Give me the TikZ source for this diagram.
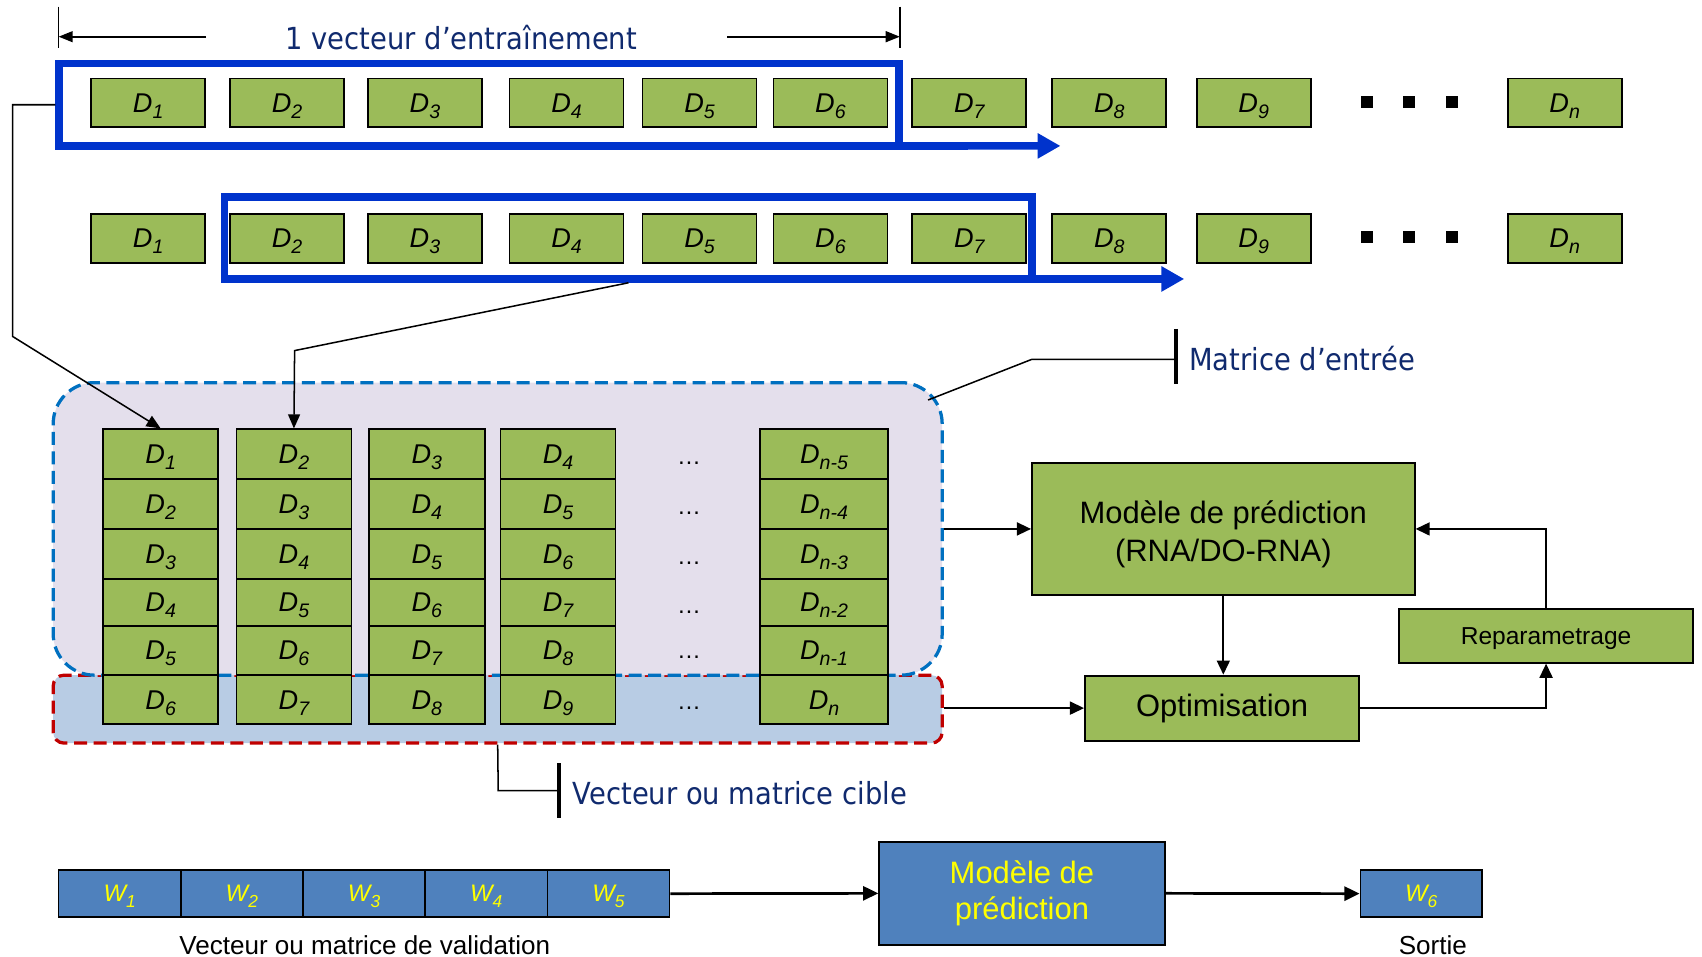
\documentclass[tikz,border=0pt]{standalone}
\usepackage{fontspec}
\usepackage{graphicx}
\setmainfont{Liberation Sans}
\newfontfamily\tah[FakeStretch=0.9]{DejaVu Sans}
\usetikzlibrary{arrows.meta,calc}
\definecolor{dgreen}{HTML}{9BBB59}
\definecolor{fblue}{HTML}{0033CC}
\definecolor{lav}{HTML}{E4DFEC}
\definecolor{dashblue}{HTML}{0070C0}
\definecolor{dred}{HTML}{C00000}
\definecolor{lblue}{HTML}{B8CCE4}
\definecolor{wblue}{HTML}{4F81BD}
\definecolor{navy}{HTML}{102A6E}
\definecolor{yel}{HTML}{FFFF00}
\newcommand\sub[1]{\raisebox{-0.22em}{\fontsize{18}{18}\selectfont #1}}
\newcommand\wsub[1]{\raisebox{-0.22em}{\fontsize{16}{16}\selectfont #1}}
\begin{document}
\begin{tikzpicture}[x=1pt,y=-1pt,
  dbox/.style={draw=black, line width=1.6pt, fill=dgreen, minimum width=105pt, minimum height=45pt, inner sep=0pt, text depth=0pt, font=\fontsize{25}{28}\selectfont\itshape},
  cell/.style={dbox},
  sq/.style={fill=black, minimum size=11pt, inner sep=0pt},
  frame/.style={draw=fblue, line width=7pt, inner sep=0pt},
  bluearr/.style={draw=fblue, line width=7pt, -{Triangle[length=21pt,width=22pt]}},
  conn/.style={draw=black, line width=1.4pt, -{Triangle[length=13pt,width=11pt]}},
  arr/.style={draw=black, line width=1.6pt, -{Triangle[length=13pt,width=12pt]}},
  barr/.style={draw=black, line width=2.5pt, -{Triangle[length=14pt,width=13pt]}},
  bigbox/.style={draw=black, line width=1.8pt, fill=dgreen, inner sep=0pt, align=center, font=\fontsize{28.5}{34.5}\selectfont},
  wbox/.style={draw=black, line width=1.6pt, fill=wblue, minimum width=112.6pt, minimum height=43pt, inner sep=0pt, text depth=0pt, text=yel, font=\fontsize{22}{24}\selectfont\itshape},
  lab/.style={text=navy, font=\tah\fontsize{28}{32}\selectfont, anchor=base west, inner sep=0pt},
  plain/.style={draw=black, line width=1.4pt},
  bar/.style={draw=black, line width=3.5pt}
]
\useasboundingbox (0,0) rectangle (1568,881);

% ---------- top dimension ----------
\coordinate (dl) at (54,33.8);
\coordinate (dr) at (829,33.8);
\coordinate (dla) at (190,33.8);
\coordinate (dra) at (670,33.8);
\draw[line width=1.2pt] (54,6) -- (54,44.5);
\draw[line width=1.2pt] (829,6) -- (829,44.5);
\draw[line width=1.6pt, -{Triangle[length=13pt,width=10pt]}] (dla) -- (dl);
\draw[line width=1.6pt, -{Triangle[length=13pt,width=10pt]}] (dra) -- (dr);
\node[lab] (tv) at (263,45.5) {1 vecteur d’entraînement};

% ---------- row 1 ----------
\foreach \i/\x in {1/136.5,2/264.5,3/391.5,4/522,5/644.5,6/765,7/893,8/1022,9/1155}
  \node[dbox] (a\i) at (\x,94.7) {D\sub{\i}};
\node[dbox] (an) at (1441.5,94.7) {D\sub{n}};
\foreach \k/\x in {1/1259,2/1298,3/1337.5} \node[sq] (pa\k) at (\x,93.7) {};

% ---------- row 2 ----------
\foreach \i/\x in {1/136.5,2/264.5,3/391.5,4/522,5/644.5,6/765,7/893,8/1022,9/1155}
  \node[dbox] (b\i) at (\x,219.5) {D\sub{\i}};
\node[dbox] (bn) at (1441.5,219.5) {D\sub{n}};
\foreach \k/\x in {1/1259,2/1298,3/1337.5} \node[sq] (pb\k) at (\x,218.5) {};

% ---------- frames ----------
\node[frame, minimum width=773.6pt, minimum height=76pt] (f1) at (441.2,96.5) {};
\coordinate (t1) at (977,134.4);
\draw[bluearr] ([shift={(-3.5pt,3.5pt)}]f1.south east) -- (t1);
\node[frame, minimum width=744pt, minimum height=75.5pt] (f2) at (579,219.25) {};
\coordinate (t2) at (1091,257);
\draw[bluearr] ([shift={(-3.5pt,3.5pt)}]f2.south east) -- (t2);

% ---------- input / target regions ----------
\node[draw=dred, fill=lblue, line width=3pt, dash pattern=on 12pt off 6pt, rounded corners=10pt,
      minimum width=819pt, minimum height=62.6pt, inner sep=0pt] (target) at (458.5,653.3) {};
\node[draw=dashblue, fill=lav, line width=3pt, dash pattern=on 12pt off 6pt, rounded corners=38pt,
      minimum width=819pt, minimum height=269.5pt, inner sep=0pt] (inmat) at (458.5,487.25) {};

% ---------- matrix ----------
\foreach \r/\y/\h in {1/418.4/45.8, 2/464.35/46.1, 3/510.4/46, 4/554.9/43, 5/599.2/45.6, 6/644.65/45.3} {
  \foreach \c/\x/\w in {1/148/106, 2/270.8/106, 3/393.15/107, 4/514.15/106} {
    \pgfmathtruncatemacro\k{\r+\c-1}
    \node[cell, minimum width=\w pt, minimum height=\h pt] (c\c\r) at (\x,\y) {D\sub{\k}};
  }
}
\foreach \r/\y/\h/\s in {1/418.4/45.8/n-5, 2/464.35/46.1/n-4, 3/510.4/46/n-3, 4/554.9/43/n-2, 5/599.2/45.6/n-1, 6/644.65/45.3/n}
  \node[cell, minimum width=118.3pt, minimum height=\h pt] (c5\r) at (759.15,\y) {D\sub{\s}};
\foreach \r/\y in {1/428.2, 2/474.1, 3/519.9, 4/565.5, 5/607.1, 6/654}
  \node[anchor=base, inner sep=0pt, font=\fontsize{22}{22}\selectfont] (e\r) at (634.8,\y) {…};

% ---------- connectors from the frames ----------
\coordinate (k1) at (11.7,310);
\draw[conn] (f1.west) -| (k1) -- (c11.north);
\coordinate (k2) at (271.4,323);
\draw[conn] (f2.south) -- (k2) -- (c21.north);

% ---------- labels with bars ----------
\coordinate (m0) at (855,368.5);
\coordinate (m1) at (950.7,331);
\coordinate (m2) at (1083.5,331);
\draw[plain] (m0) -- (m1) -- (m2);
\draw[bar] (1083.5,303) -- (1083.5,354);
\node[lab] (tm) at (1095.4,341) {Matrice d’entrée};

\coordinate (v1) at (459,728.4);
\coordinate (v2) at (515,728.4);
\draw[plain] (target.south) -- (v1) -- (v2);
\draw[bar] (515,703) -- (515,753.7);
\node[lab] (tc) at (527.6,740.7) {Vecteur ou matrice cible};

% ---------- right block ----------
\node[bigbox, minimum width=352.5pt, minimum height=121pt] (M) at (1127,487.3) {\rule{0pt}{31pt}Modèle de prédiction\\(RNA/DO-RNA)};
\node[bigbox, minimum width=252.6pt, minimum height=59.9pt] (O) at (1125.9,652.35) {Optimisation};
\node[bigbox, minimum width=270.7pt, minimum height=49.2pt, text depth=0pt, font=\fontsize{22.6}{26}\selectfont] (R) at (1424.35,585.9) {Reparametrage};
\draw[arr] (inmat.east) -- (M.west);
\draw[arr] (target.east |- O.west) -- (O.west);
\draw[arr] (M.south) -- (M.south |- O.north);
\draw[arr] (O.east) -| (R.south);
\draw[arr] (R.north) |- (M.east);

% ---------- validation ----------
\foreach \i/\x in {1/110.2,2/222.8,3/335.4,4/448,5/560.6}
  \node[wbox] (w\i) at (\x,823.3) {W\wsub{\i}};
\node[wbox, minimum width=112pt] (w6) at (1309.3,823.3) {W\wsub{6}};
\node[draw=black, line width=1.8pt, fill=wblue, minimum width=263pt, minimum height=95.2pt, inner sep=0pt,
      align=center, text=yel, font=\fontsize{28.5}{34}\selectfont] (BM) at (941.5,823) {Modèle de\\prédiction};
\draw[barr] (w5.east) -- (BM.west);
\draw[barr] (BM.east) -- (w6.west);
\node[anchor=base, inner sep=0pt, font=\fontsize{24}{24}\selectfont] (vl) at (336,879) {Vecteur ou matrice de validation};
\node[anchor=base, inner sep=0pt, font=\fontsize{24}{24}\selectfont] (so) at (1320,879) {Sortie};
\end{tikzpicture}
\end{document}
